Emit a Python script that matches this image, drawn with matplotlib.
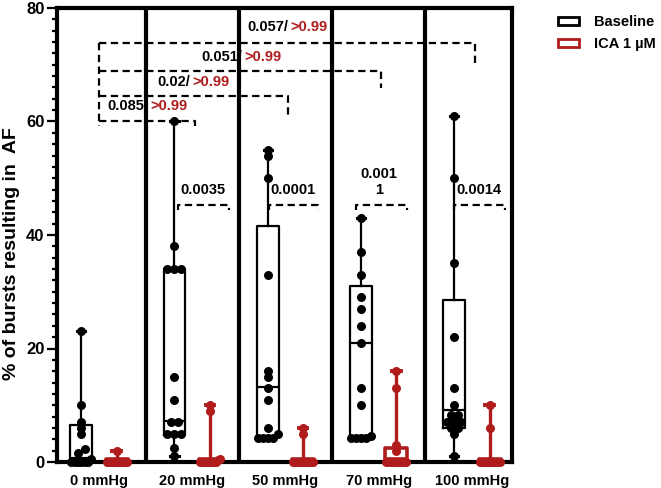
import numpy as np
import matplotlib
matplotlib.use("Agg")
import matplotlib.pyplot as plt
from matplotlib.patches import Patch

plt.rcParams['font.family'] = ['Liberation Sans', 'DejaVu Sans']
plt.rcParams['font.weight'] = 'bold'

RED = '#b01c1c'

categories = ['0 mmHg', '20 mmHg', '50 mmHg', '70 mmHg', '100 mmHg']

# individual values (% of bursts resulting in AF)
baseline = [
    [23, 10, 7, 6, 5, 2.3, 1.5, 0.5, 0, 0, 0, 0, 0, 0],
    [60, 38, 34, 34, 34, 15, 11, 7, 7, 5, 5, 5, 2.5, 1],
    [55, 54, 50, 33, 16, 15, 13, 11, 6, 5, 4.2, 4.2, 4.2, 4.2],
    [43, 37, 33, 29, 27, 24, 21, 13, 10, 4.5, 4.2, 4.2, 4.2, 4.2],
    [61, 50, 35, 22, 13, 10, 8.3, 8.3, 7, 7, 7, 6, 6, 5, 1],
]
ica = [
    [2, 0, 0, 0, 0, 0, 0, 0, 0, 0, 0, 0, 0, 0],
    [10, 9, 0.6, 0.3, 0, 0, 0, 0, 0, 0, 0, 0, 0, 0],
    [6, 5, 0, 0, 0, 0, 0, 0, 0, 0, 0, 0, 0, 0],
    [16, 13, 3, 2, 0, 0, 0, 0, 0, 0, 0, 0, 0, 0],
    [10, 6, 0, 0, 0, 0, 0, 0, 0, 0, 0, 0, 0, 0, 0],
]

# box quartiles
bl_q1 = [0, 4.7, 4.5, 4.5, 6.0]
bl_med = [0.7, 7.3, 13.2, 21, 9.2]
bl_q3 = [6.5, 34, 41.5, 31, 28.5]
ica_q1 = [0, 0, 0, 0, 0]
ica_med = [0, 0, 0, 0.5, 0]
ica_q3 = [0.5, 0.5, 0.5, 2.4, 0.5]

# comparisons baseline 0 mmHg vs other pressures (baseline p / ICA p)
between_p_base = ['0.085/', '0.02/', '0.051/', '0.057/']
between_p_ica = ['>0.99', '>0.99', '>0.99', '>0.99']
# comparisons baseline vs ICA within each pressure
within_p = ['0.0035', '0.0001', '0.001\n1', '0.0014']


def swarm(values, center, ax, diam_px=7.0, max_px=10.0):
    """Spread points of similar height side by side, kept inside the box width."""
    sx = ax.transData.transform((1, 0))[0] - ax.transData.transform((0, 0))[0]
    sy = ax.transData.transform((0, 1))[1] - ax.transData.transform((0, 0))[1]
    vals = sorted(values)
    clusters = [[vals[0]]]
    for v in vals[1:]:
        if (v - clusters[-1][-1]) * sy < diam_px * 0.8:
            clusters[-1].append(v)
        else:
            clusters.append([v])
    xs, ys = [], []
    for cl in clusters:
        m = len(cl)
        step = diam_px if m < 2 else min(diam_px, 2 * max_px / (m - 1))
        for j, v in enumerate(cl):
            xs.append(center + (j - (m - 1) / 2) * step / sx)
            ys.append(v)
    return xs, ys


def stats(vals, q1, med, q3):
    return dict(med=med, q1=q1, q3=q3, whislo=min(vals), whishi=max(vals), fliers=[])


fig = plt.figure(figsize=(6.61, 4.88), dpi=100)
ax = fig.add_axes([57 / 661, 1 - 462 / 488, 455 / 661, 454 / 488])
ax.set_xlim(-0.45, 4.43)
ax.set_ylim(0, 80)

pos = np.arange(len(categories))
off = 0.19
w = 0.235

ax.bxp([stats(v, a, b, c) for v, a, b, c in zip(baseline, bl_q1, bl_med, bl_q3)],
       positions=pos - off, widths=w, showfliers=False, capwidths=0.09,
       boxprops=dict(color='black', lw=1.6),
       whiskerprops=dict(color='black', lw=1.6),
       capprops=dict(color='black', lw=2.2),
       medianprops=dict(color='black', lw=1.6))
ax.bxp([stats(v, a, b, c) for v, a, b, c in zip(ica, ica_q1, ica_med, ica_q3)],
       positions=pos + off, widths=w, showfliers=False, capwidths=0.09,
       boxprops=dict(color=RED, lw=2.6),
       whiskerprops=dict(color=RED, lw=2.4),
       capprops=dict(color=RED, lw=2.8),
       medianprops=dict(color=RED, lw=2.6))

for i in range(len(categories)):
    xs, ys = swarm(baseline[i], pos[i] - off, ax)
    ax.scatter(xs, ys, s=42, color='black', zorder=5, clip_on=False, lw=0)
    xs, ys = swarm(ica[i], pos[i] + off, ax)
    ax.scatter(xs, ys, s=42, color=RED, zorder=5, clip_on=False, lw=0)

# group separators
for i in range(len(categories) - 1):
    ax.axvline(i + 0.5, color='black', lw=3, zorder=1)

# brackets baseline 0 mmHg vs others
dash = dict(color='black', lw=1.6, dashes=(3.3, 2.0), zorder=4)
levels = [60, 64.5, 68.9, 73.9]
right_bottom = [59.2, 60.8, 65.9, 69.8]
ax.plot([0, 0], [levels[-1], 59.2], **dash)
text_y = [62.7, 67.0, 71.4, 76.7]
split_x = [0.53, 0.98, 1.535, 2.03]
for k in range(4):
    xr = k + 1.03
    ax.plot([0, xr, xr], [levels[k], levels[k], right_bottom[k]], **dash)
    ax.text(split_x[k], text_y[k], between_p_base[k], ha='right', va='center',
            fontsize=10.5, color='black')
    ax.text(split_x[k] + 0.025, text_y[k], between_p_ica[k], ha='left', va='center',
            fontsize=10.5, color=RED)

# brackets baseline vs ICA within groups
br_left = [-0.15, -0.18, -0.24, -0.19]
br_right = [0.39, 0.35, 0.30, 0.35]
for k in range(4):
    c = k + 1
    x0, x1 = c + br_left[k], c + br_right[k]
    ax.plot([x0, x0, x1, x1], [44.4, 45.3, 45.3, 44.4], **dash)
    if '\n' in within_p[k]:
        ax.text(c, 49.3, within_p[k], ha='center', va='center', fontsize=10.5,
                linespacing=1.2)
    else:
        ax.text(x0 + 0.02, 47.9, within_p[k], ha='left', va='center', fontsize=10.5)

# axes styling
for s in ['left', 'bottom', 'top', 'right']:
    ax.spines[s].set_linewidth(3)
ax.set_xticks(pos)
ax.set_xticklabels(categories, fontsize=10.5, fontweight='bold')
ax.tick_params(axis='x', length=0, pad=9)
ax.set_yticks([0, 20, 40, 60, 80])
ax.set_yticks(np.arange(0, 81, 2), minor=True)
ax.tick_params(axis='y', which='major', length=7, width=1.6, labelsize=12, pad=2)
ax.tick_params(axis='y', which='minor', length=3.8, width=1.6)
ax.set_ylabel('% of bursts resulting in  AF', fontsize=14, fontweight='bold')
ax.yaxis.set_label_coords(-0.081, 0.46)

handles = [Patch(facecolor='white', edgecolor='black', lw=2),
           Patch(facecolor='white', edgecolor=RED, lw=2)]
fig.legend(handles, ['Baseline', 'ICA 1 \u00b5M'], loc='upper left',
           bbox_to_anchor=(552 / 661, 1 - 9 / 488), frameon=False,
           fontsize=10.5, handlelength=1.45, handleheight=0.45,
           handletextpad=1.0, labelspacing=0.55, borderaxespad=0)

fig.savefig('out.png', dpi=100)
